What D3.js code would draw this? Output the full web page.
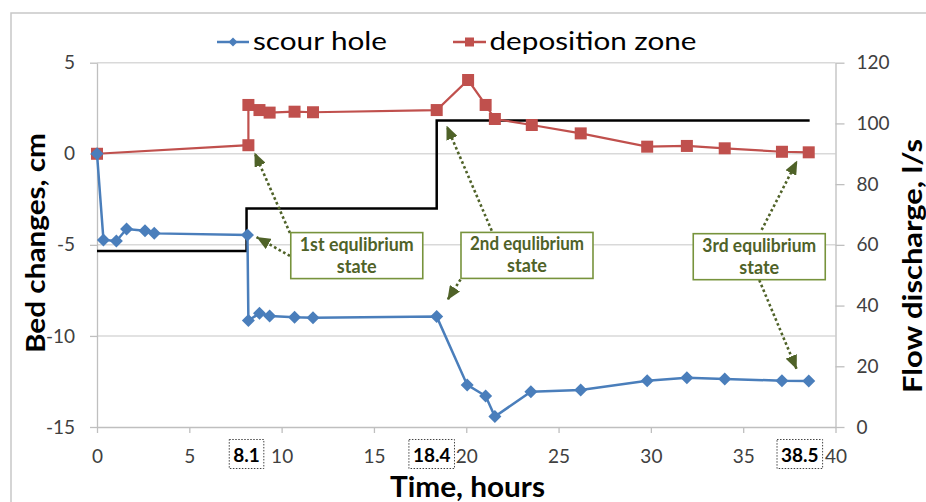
<!DOCTYPE html>
<html>
<head>
<meta charset="utf-8">
<title>Bed changes and flow discharge</title>
<script src="https://cdn.jsdelivr.net/npm/d3@7"></script>
<style>
body { margin: 0; background: #fff; }
svg { font-family: Lato, "Open Sans", sans-serif; }
.axis path, .axis line { stroke: #bfbfbf; stroke-width: 1.3px; }
.axis text { fill: #404040; font-size: 19px; font-family: Lato, sans-serif; }
.grid line { stroke: #d9d9d9; stroke-width: 1.5px; }
.note text { fill: #4f6228; font-weight: bold; font-size: 18px; }
</style>
</head>
<body>
<svg id="chart" width="926" height="502"></svg>
<script>
// scour hole (time in hours, bed change in cm)
var scourT = [0, 0.35, 1.05, 1.6, 2.6, 3.1, 8.15, 8.2, 8.8, 9.35, 10.7, 11.7, 18.4, 20.05, 21.05, 21.55, 23.5, 26.2, 29.8, 31.95, 34.0, 37.1, 38.55];
var scourV = [0, -4.73, -4.79, -4.13, -4.22, -4.37, -4.46, -9.16, -8.76, -8.91, -8.98, -9.0, -8.94, -12.69, -13.3, -14.43, -13.06, -12.97, -12.46, -12.29, -12.36, -12.46, -12.47];
// deposition zone
var depT = [0, 8.2, 8.2, 8.8, 9.35, 10.7, 11.7, 18.4, 20.1, 21.05, 21.55, 23.55, 26.2, 29.8, 31.95, 34.0, 37.1, 38.55];
var depV = [0, 0.47, 2.68, 2.4, 2.26, 2.31, 2.28, 2.4, 4.05, 2.68, 1.91, 1.58, 1.12, 0.39, 0.43, 0.3, 0.11, 0.08];
// flow discharge steps (l/s)
var flowT = [0, 8.1, 18.4, 38.6];
var flowQ = [58, 72, 101, 101];

var xTicks = [0, 5, 10, 15, 20, 25, 30, 35, 40];
var leftTicks = [-15, -10, -5, 0, 5];
var rightTicks = [0, 20, 40, 60, 80, 100, 120];
var markTimes = [8.1, 18.4, 38.5];
var markShift = [0, -5, -8];

// equilibrium notes, boxes and arrows in data units (hours, cm)
var noteLabels = ["1st equlibrium", "2nd equlibrium", "3rd equlibrium"];
var noteT = [14.07, 23.29, 35.87];
var noteV = [-5.59, -5.58, -5.65];
var arrowFromT = [10.45, 10.45, 21.38, 19.69, 36.0, 35.87];
var arrowFromV = [-4.35, -5.61, -4.22, -6.9, -4.18, -6.93];
var arrowToT = [8.53, 8.64, 18.93, 18.98, 37.93, 37.9];
var arrowToV = [0.07, -4.57, 1.55, -8.03, -0.37, -11.83];

var svg = d3.select("#chart");
var x = d3.scaleLinear().domain([0, 40]).range([97, 835.5]);
var yL = d3.scaleLinear().domain([-15, 5]).range([427, 62.7]);
var yR = d3.scaleLinear().domain([0, 120]).range([427, 62.7]);

/* outer chart border */
svg.append("rect").attr("x", 11).attr("y", 13).attr("width", 960).attr("height", 600)
  .attr("fill", "none").attr("stroke", "#c8c8c8").attr("stroke-width", 1.5);

/* gridlines */
svg.append("g").attr("class", "grid").selectAll("line")
  .data(leftTicks.filter(function(d) { return d > -15; }))
  .enter().append("line")
  .attr("x1", x(0)).attr("x2", x(40))
  .attr("y1", function(d) { return yL(d); }).attr("y2", function(d) { return yL(d); });

var fmt = function(d) { return String(d); };

svg.append("g").attr("class", "axis").attr("transform", "translate(" + x(0) + ",0)")
  .call(d3.axisLeft(yL).tickValues(leftTicks).tickFormat(fmt).tickSize(7).tickSizeOuter(0).tickPadding(15));
svg.append("g").attr("class", "axis").attr("transform", "translate(" + x(40) + ",0)")
  .call(d3.axisRight(yR).tickValues(rightTicks).tickFormat(fmt).tickSize(9).tickSizeOuter(0).tickPadding(12));
svg.append("g").attr("class", "axis").attr("transform", "translate(0," + yL(-15) + ")")
  .call(d3.axisBottom(x).tickValues(xTicks).tickFormat(fmt).tickSize(6).tickSizeOuter(0).tickPadding(17));

/* highlighted times under the axis */
var marks = svg.append("g").selectAll("g").data(markTimes).enter().append("g");
marks.append("text")
  .attr("x", function(d, i) { return x(d) + markShift[i]; })
  .attr("y", 461.5)
  .attr("text-anchor", "middle")
  .attr("font-weight", "bold").attr("font-size", 19).attr("fill", "#000")
  .text(function(d) { return String(d); });
marks.each(function() {
  var g = d3.select(this);
  var b = g.select("text").node().getBBox();
  g.insert("rect", "text")
    .attr("x", b.x - 4).attr("y", 439.5)
    .attr("width", b.width + 8).attr("height", 29)
    .attr("fill", "#fff").attr("stroke", "#444").attr("stroke-width", 1)
    .attr("stroke-dasharray", "1.5,1.5");
});

/* flow discharge */
var flowLine = d3.line().curve(d3.curveStepAfter)
  .x(function(d, i) { return x(flowT[i]); })
  .y(function(d) { return yR(d); });
svg.append("path").attr("d", flowLine(flowQ))
  .attr("fill", "none").attr("stroke", "#000").attr("stroke-width", 2.5);

/* deposition zone */
var depLine = d3.line().x(function(d, i) { return x(depT[i]); }).y(function(d) { return yL(d); });
svg.append("path").attr("d", depLine(depV))
  .attr("fill", "none").attr("stroke", "#c0504d").attr("stroke-width", 2.2);
svg.append("g").selectAll("rect").data(depV).enter().append("rect")
  .attr("x", function(d, i) { return x(depT[i]) - 6; })
  .attr("y", function(d) { return yL(d) - 6; })
  .attr("width", 12).attr("height", 12).attr("fill", "#c0504d");

/* scour hole */
var scourLine = d3.line().x(function(d, i) { return x(scourT[i]); }).y(function(d) { return yL(d); });
svg.append("path").attr("d", scourLine(scourV))
  .attr("fill", "none").attr("stroke", "#4a7ebb").attr("stroke-width", 2.5);
var diamond = "M0,-6.5L6.5,0L0,6.5L-6.5,0Z";
svg.append("g").selectAll("path").data(scourV).enter().append("path")
  .attr("d", diamond)
  .attr("transform", function(d, i) { return "translate(" + x(scourT[i]) + "," + yL(d) + ")"; })
  .attr("fill", "#4a7ebb");

/* arrows */
svg.append("defs").append("marker")
  .attr("id", "head").attr("viewBox", "0 -6 14 12")
  .attr("refX", 14).attr("refY", 0)
  .attr("markerUnits", "userSpaceOnUse")
  .attr("markerWidth", 14).attr("markerHeight", 12)
  .attr("orient", "auto")
  .append("path").attr("d", "M0,-6L14,0L0,6Z").attr("fill", "#4f6228");

svg.append("g").selectAll("line").data(arrowFromT).enter().append("line")
  .attr("x1", function(d) { return x(d); })
  .attr("y1", function(d, i) { return yL(arrowFromV[i]); })
  .attr("x2", function(d, i) { return x(arrowToT[i]); })
  .attr("y2", function(d, i) { return yL(arrowToV[i]); })
  .attr("stroke", "#4f6228").attr("stroke-width", 2.6)
  .attr("stroke-dasharray", "2.6,2.6")
  .attr("marker-end", "url(#head)");

/* note boxes */
var notes = svg.append("g").attr("class", "note").selectAll("g").data(noteLabels).enter().append("g")
  .attr("transform", function(d, i) { return "translate(" + x(noteT[i]) + "," + yL(noteV[i]) + ")"; });
notes.append("rect")
  .attr("x", -66).attr("y", -23).attr("width", 132).attr("height", 46)
  .attr("fill", "#fff").attr("stroke", "#77933c").attr("stroke-width", 1.6);
notes.append("text").attr("text-anchor", "middle").attr("y", -5)
  .attr("textLength", 114).attr("lengthAdjust", "spacingAndGlyphs").text(function(d) { return d; });
notes.append("text").attr("text-anchor", "middle").attr("y", 17).text("state");

/* legend */
var legend = svg.append("g");
legend.append("line").attr("x1", 217).attr("x2", 249).attr("y1", 42).attr("y2", 42)
  .attr("stroke", "#4a7ebb").attr("stroke-width", 2.5);
legend.append("path").attr("d", "M0,-4.5L4.5,0L0,4.5L-4.5,0Z")
  .attr("transform", "translate(233,42)").attr("fill", "#4a7ebb");
legend.append("text").attr("x", 253).attr("y", 49.5).attr("font-size", 25).attr("fill", "#000")
  .attr("textLength", 134).attr("lengthAdjust", "spacingAndGlyphs").text("scour hole");
legend.append("line").attr("x1", 453).attr("x2", 486).attr("y1", 42).attr("y2", 42)
  .attr("stroke", "#c0504d").attr("stroke-width", 2.5);
legend.append("rect").attr("x", 465).attr("y", 37.5).attr("width", 9).attr("height", 9).attr("fill", "#c0504d");
legend.append("text").attr("x", 489.5).attr("y", 49.5).attr("font-size", 25).attr("fill", "#000")
  .attr("textLength", 207).attr("lengthAdjust", "spacingAndGlyphs").text("deposition zone");

/* axis titles */
svg.append("text").attr("transform", "translate(45,243) rotate(-90)")
  .attr("text-anchor", "middle").attr("font-weight", "bold").attr("font-size", 27)
  .attr("textLength", 220).attr("lengthAdjust", "spacingAndGlyphs").text("Bed changes, cm");
svg.append("text").attr("transform", "translate(922,266) rotate(-90)")
  .attr("text-anchor", "middle").attr("font-weight", "bold").attr("font-size", 27)
  .attr("textLength", 254).attr("lengthAdjust", "spacingAndGlyphs").text("Flow discharge, l/s");
svg.append("text").attr("x", 467.5).attr("y", 496.5)
  .attr("text-anchor", "middle").attr("font-weight", "bold").attr("font-size", 29)
  .attr("textLength", 155).attr("lengthAdjust", "spacingAndGlyphs").text("Time, hours");
</script>
</body>
</html>
